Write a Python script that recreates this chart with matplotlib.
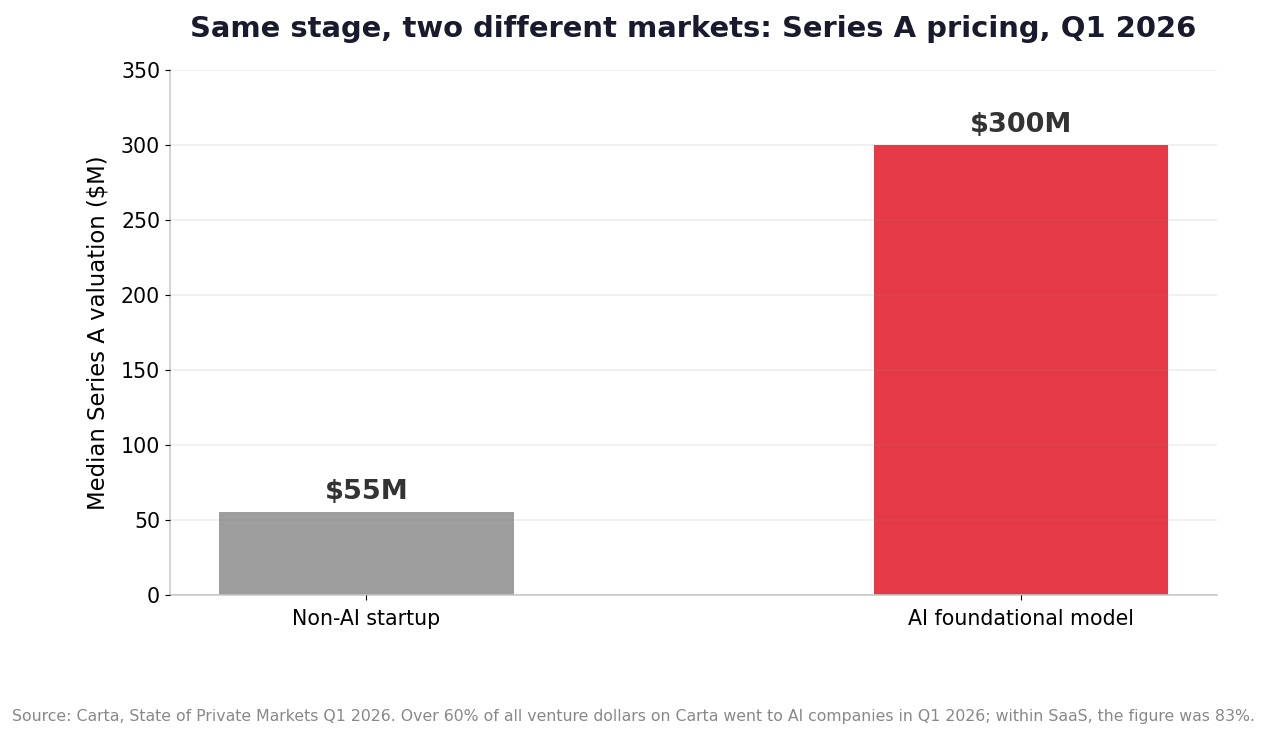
import matplotlib
matplotlib.use("Agg")
import matplotlib.pyplot as plt

# data
categories = ["Non-AI startup", "AI foundational model"]
valuations = [55, 300]
value_labels = ["$55M", "$300M"]
colors = ["#9e9e9e", "#e63946"]

fig, ax = plt.subplots(figsize=(12.68, 7.39), dpi=100)
fig.subplots_adjust(left=0.134, right=0.96, top=0.905, bottom=0.195)

x = range(len(categories))
bars = ax.bar(x, valuations, width=0.45, color=colors, zorder=2)

for bar, lab in zip(bars, value_labels):
    ax.text(bar.get_x() + bar.get_width() / 2, bar.get_height() + 5, lab,
            ha="center", va="bottom", fontsize=19.5, fontweight="bold", color="#333333")

ax.set_xlim(-0.3, 1.3)
ax.set_ylim(0, 350)
ax.set_xticks(list(x))
ax.set_xticklabels(categories)
ax.tick_params(axis="both", labelsize=14.8)
ax.tick_params(axis="x", pad=7)
ax.set_ylabel("Median Series A valuation ($M)", fontsize=16.4, labelpad=8)

ax.yaxis.grid(True, color="#888888", alpha=0.15, linewidth=1.2, zorder=3)
ax.set_axisbelow(False)
for s in ["top", "right"]:
    ax.spines[s].set_visible(False)
for s in ["left", "bottom"]:
    ax.spines[s].set_color("#cccccc")
    ax.spines[s].set_linewidth(1.2)

ax.set_title("Same stage, two different markets: Series A pricing, Q1 2026",
             fontsize=20.9, fontweight="bold", color="#1a1a2e", pad=24)

fig.text(0.5, 0.025, "Source: Carta, State of Private Markets Q1 2026. Over 60% of all venture dollars on Carta went to AI companies in Q1 2026; within SaaS, the figure was 83%.",
         ha="center", fontsize=11.3, color="#888888")

fig.savefig("out.png", dpi=100)
